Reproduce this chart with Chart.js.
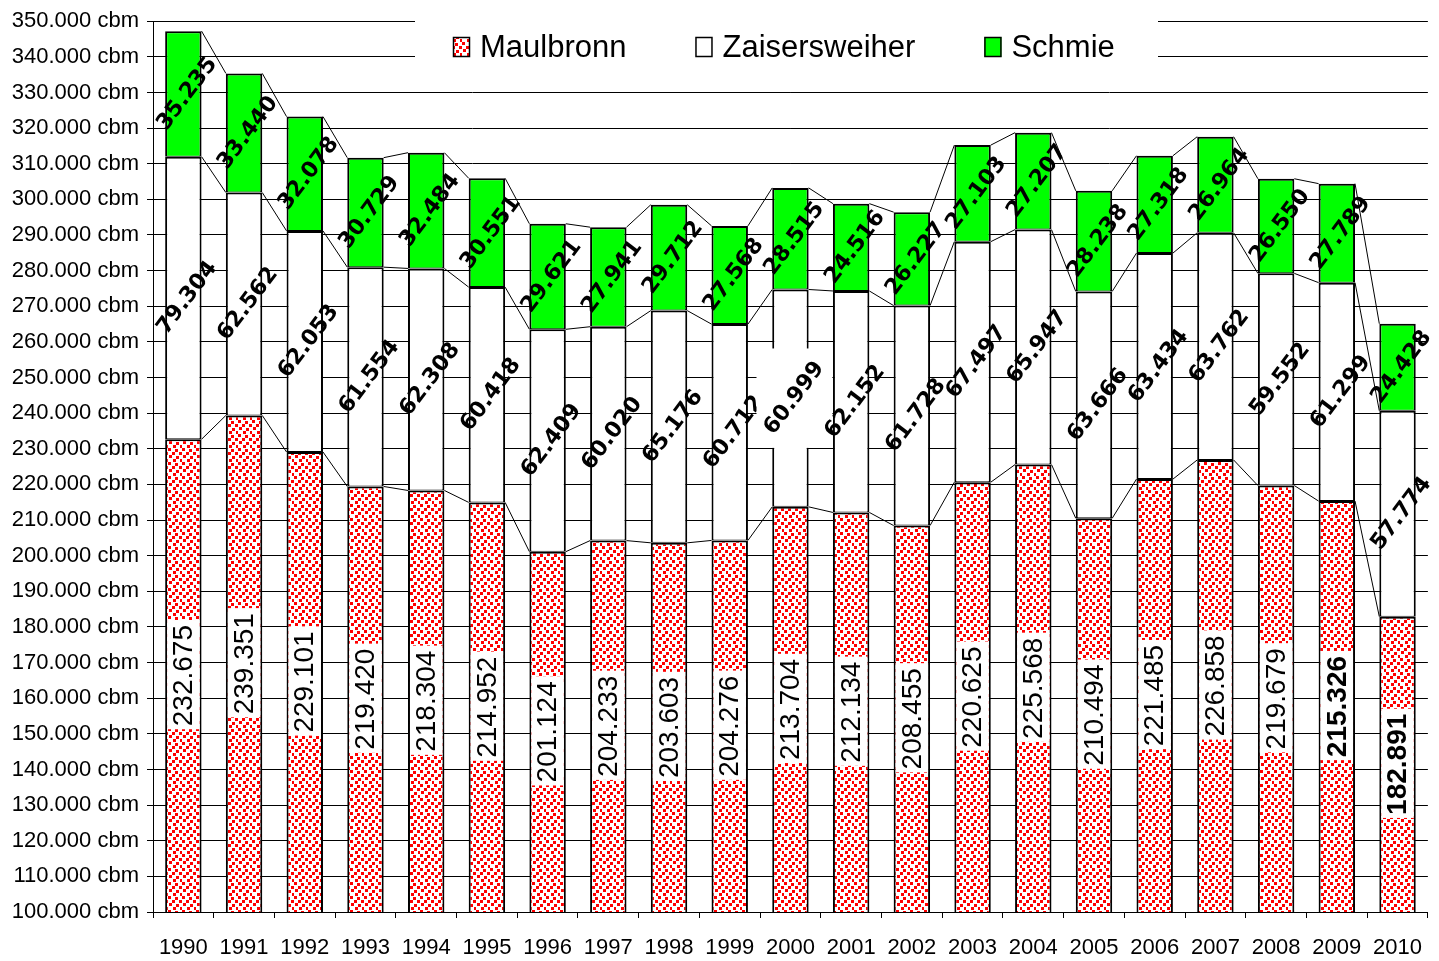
<!DOCTYPE html>
<html>
<head>
<meta charset="utf-8">
<script src="https://cdn.jsdelivr.net/npm/chart.js@4.4.1/dist/chart.umd.min.js"></script>
<style>
  html, body { margin: 0; padding: 0; background: #fff; overflow: hidden; }
  #wrap { width: 1439px; height: 961px; }
</style>
</head>
<body>
<div id="wrap"><canvas id="chart"></canvas></div>
<script>
const years = ["1990", "1991", "1992", "1993", "1994", "1995", "1996", "1997", "1998", "1999", "2000",
  "2001", "2002", "2003", "2004", "2005", "2006", "2007", "2008", "2009", "2010"];
const maulbronn = [232675, 239351, 229101, 219420, 218304, 214952, 201124, 204233, 203603, 204276, 213704,
  212134, 208455, 220625, 225568, 210494, 221485, 226858, 219679, 215326, 182891];
const zaisersweiher = [79304, 62562, 62053, 61554, 62308, 60418, 62409, 60020, 65176, 60712, 60999,
  62152, 61728, 67497, 65947, 63666, 63434, 63762, 59552, 61299, 57774];
const schmie = [35235, 33440, 32078, 30729, 32484, 30551, 29621, 27941, 29712, 27568, 28515,
  24516, 26227, 27103, 27207, 28238, 27318, 26964, 26550, 27789, 24428];
const yMin = 100000;
const yMax = 350000;
const yStep = 10000;
const boldMaulbronn = ["2009", "2010"];
const boxedZaisersweiher = ["2000"];

const sans = '"Liberation Sans", Arial, sans-serif';
const fmt = (v) => String(Math.round(v)).replace(/\B(?=(\d{3})+(?!\d))/g, ".");

// red dotted fill like the excel pattern
function dotPattern() {
  const n = 14;
  const tile = document.createElement("canvas");
  tile.width = n;
  tile.height = n;
  const g = tile.getContext("2d");
  g.fillStyle = "#fff";
  g.fillRect(0, 0, n, n);
  g.fillStyle = "#ff0000";
  [[0, 0], [7, 1], [11, 4], [4, 4], [1, 7], [8, 8], [5, 11], [12, 11]]
    .forEach(([x, y]) => g.fillRect(x, y, 3, 3));
  return g.createPattern(tile, "repeat");
}

const legendBox = {
  id: "legendBox",
  beforeDatasetsDraw(chart) {
    const ctx = chart.ctx;
    ctx.save();
    ctx.fillStyle = "#fff";
    ctx.fillRect(415, 0, 743, 74);
    ctx.font = "31px " + sans;
    ctx.textBaseline = "alphabetic";
    let x = 453;
    chart.data.datasets.forEach((ds) => {
      ctx.fillStyle = ds.backgroundColor;
      ctx.fillRect(x, 37, 17, 20);
      ctx.strokeStyle = "#000";
      ctx.lineWidth = 1.5;
      ctx.strokeRect(x + 0.5, 37.5, 16, 19);
      ctx.fillStyle = "#000";
      ctx.fillText(ds.label, x + 27, 57);
      x += 27 + ctx.measureText(ds.label).width + 69;
    });
    ctx.restore();
  },
};

const seriesLines = {
  id: "seriesLines",
  beforeDatasetsDraw(chart) {
    const ctx = chart.ctx;
    ctx.save();
    ctx.strokeStyle = "#000";
    ctx.lineWidth = 1;
    chart.data.datasets.forEach((ds, di) => {
      const bars = chart.getDatasetMeta(di).data;
      for (let i = 0; i < bars.length - 1; i++) {
        const a = bars[i], b = bars[i + 1];
        ctx.beginPath();
        ctx.moveTo(a.x + a.width / 2, a.y);
        ctx.lineTo(b.x - b.width / 2, b.y);
        ctx.stroke();
      }
    });
    ctx.restore();
  },
};

const valueLabels = {
  id: "valueLabels",
  afterDatasetsDraw(chart) {
    const ctx = chart.ctx;
    const area = chart.chartArea;
    ctx.save();
    ctx.textAlign = "center";
    ctx.textBaseline = "middle";

    // Maulbronn: vertical, white box
    chart.getDatasetMeta(0).data.forEach((bar, i) => {
      const txt = fmt(maulbronn[i]);
      const bold = boldMaulbronn.includes(years[i]);
      ctx.font = (bold ? "bold " : "") + "28px " + sans;
      const w = ctx.measureText(txt).width;
      const cy = (bar.y + area.bottom) / 2;
      ctx.fillStyle = "#fff";
      ctx.fillRect(bar.x - bar.width / 2 + 2, cy - w / 2 - 5, bar.width - 4, w + 8);
      ctx.save();
      ctx.translate(bar.x + 1, cy);
      ctx.rotate(-Math.PI / 2);
      ctx.fillStyle = "#000";
      ctx.fillText(txt, 0, 0);
      ctx.restore();
    });

    // Zaisersweiher + Schmie: slanted bold
    const ang = -53 * Math.PI / 180;
    [[1, zaisersweiher], [2, schmie]].forEach(([di, vals]) => {
      chart.getDatasetMeta(di).data.forEach((bar, i) => {
        const txt = fmt(vals[i]);
        ctx.font = 'bold 22px "DejaVu Sans", Verdana, sans-serif';
        const cx = bar.x + 4;
        const cy = (bar.y + bar.base) / 2;
        if (di === 1 && boxedZaisersweiher.includes(years[i])) {
          const w = ctx.measureText(txt).width, h = 16;
          const bw = w * Math.cos(-ang) + h * Math.sin(-ang) + 12;
          const bh = w * Math.sin(-ang) + h * Math.cos(-ang) + 22;
          ctx.fillStyle = "#fff";
          ctx.fillRect(cx - bw / 2, cy - bh / 2, bw, bh);
        }
        ctx.save();
        ctx.translate(cx, cy);
        ctx.rotate(ang);
        ctx.fillStyle = "#000";
        ctx.fillText(txt, 0, 0);
        ctx.restore();
      });
    });
    ctx.restore();
  },
};

const barStyle = {
  borderColor: "#000",
  borderWidth: { top: 2, bottom: 1, left: 2, right: 2 },
  borderSkipped: false,
  barPercentage: 0.6,
  categoryPercentage: 1.0,
};

new Chart(document.getElementById("chart"), {
  type: "bar",
  data: {
    labels: years,
    datasets: [
      { label: "Maulbronn", data: maulbronn, backgroundColor: dotPattern(), ...barStyle },
      { label: "Zaisersweiher", data: zaisersweiher, backgroundColor: "#ffffff", ...barStyle },
      { label: "Schmie", data: schmie, backgroundColor: "#00ff00", ...barStyle },
    ],
  },
  options: {
    responsive: true,
    maintainAspectRatio: false,
    animation: false,
    layout: { padding: { top: 19, left: 0, right: -3, bottom: 0 } },
    plugins: { legend: { display: false }, tooltip: { enabled: false } },
    scales: {
      x: {
        stacked: true,
        grid: { drawOnChartArea: false, drawTicks: true, tickLength: 6, color: "#000" },
        border: { color: "#000", width: 1 },
        ticks: { color: "#000", font: { family: sans, size: 22 }, padding: 17, maxRotation: 0, autoSkip: false },
        afterFit: (s) => { s.height = 49; },
      },
      y: {
        stacked: true,
        min: yMin,
        max: yMax,
        grid: { color: "#000", tickLength: 6 },
        border: { color: "#000", width: 1 },
        ticks: { stepSize: yStep, color: "#000", font: { family: sans, size: 22 }, padding: 8, callback: (v) => fmt(v) + " cbm" },
        afterFit: (s) => { s.width = 153; },
      },
    },
  },
  plugins: [legendBox, seriesLines, valueLabels],
});
</script>
</body>
</html>
